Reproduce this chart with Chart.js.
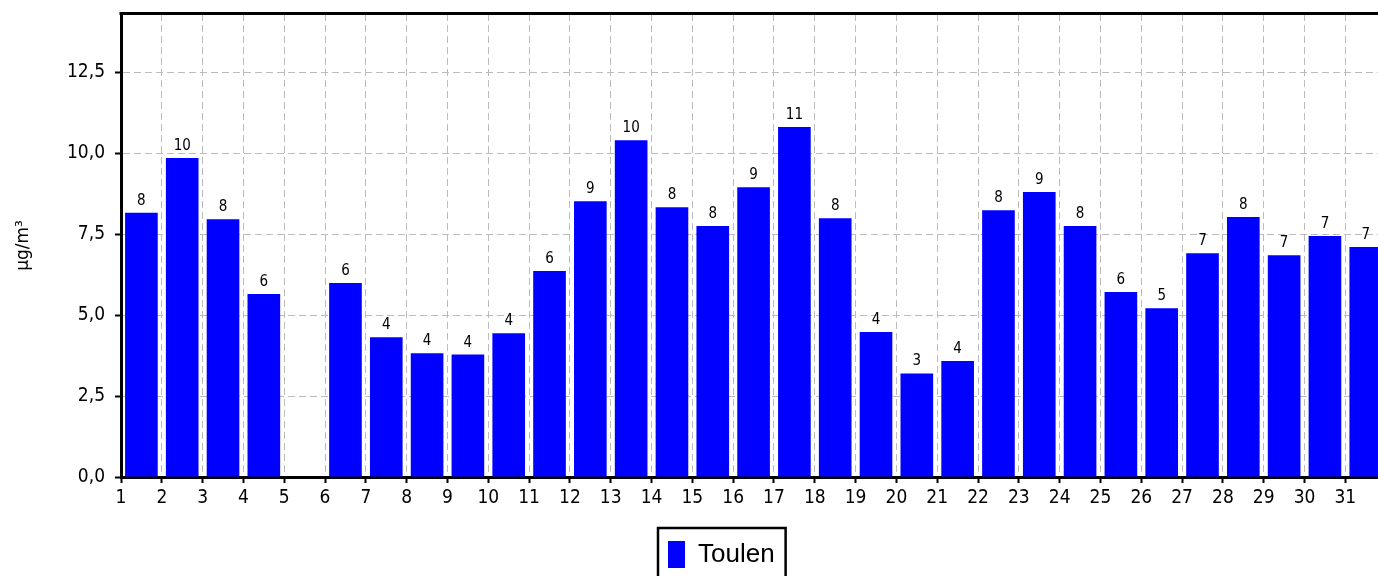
<!DOCTYPE html>
<html>
<head>
<meta charset="utf-8">
<script src="https://cdn.jsdelivr.net/npm/chart.js@4.4.0/dist/chart.umd.min.js"></script>
<style>
    html, body { margin: 0; padding: 0; background: #fff; overflow: hidden; }
    #wrap { width: 1378px; height: 600px; position: relative; }
</style>
</head>
<body>
<div id="wrap"><canvas id="chart"></canvas></div>
<script>
// data (day of month -> toluene, ug/m3)
const days = [1, 2, 3, 4, 5, 6, 7, 8, 9, 10, 11, 12, 13, 14, 15, 16, 17, 18, 19, 20, 21, 22, 23, 24, 25, 26, 27, 28, 29, 30, 31]
const toulen = [8.16, 9.85, 7.96, 5.65, null, 5.99, 4.32, 3.82, 3.78, 4.44, 6.36, 8.52, 10.40, 8.33, 7.75, 8.95, 10.81, 7.99, 4.48, 3.20, 3.58, 8.24, 8.80, 7.75, 5.71, 5.21, 6.91, 8.03, 6.85, 7.44, 7.10]
const seriesName = "Toulen"
const yTitle = "µg/m³"

const tickFont = "'DejaVu Sans Condensed', 'DejaVu Sans', sans-serif"

Chart.defaults.color = "#000"
Chart.defaults.font.family = tickFont

// LABEL NILAI + GARIS ATAS + KOTAK LEGEND
const extras = {
    id: "extras",
    afterLayout(chart) {
        chart.legend.left = 658
    },
    afterDatasetsDraw(chart) {
        const ctx = chart.ctx
        const meta = chart.getDatasetMeta(0)
        ctx.save()
        ctx.font = "15px " + tickFont
        ctx.fillStyle = "#000"
        ctx.textAlign = "center"
        ctx.textBaseline = "alphabetic"
        meta.data.forEach((bar, i) => {
            const v = toulen[i]
            if (v === null) return
            ctx.fillText(String(Math.round(v)), bar.x, bar.y - 8)
        })
        ctx.restore()
    },
    afterDraw(chart) {
        const ctx = chart.ctx
        const area = chart.chartArea
        ctx.save()
        ctx.strokeStyle = "#000"
        ctx.lineWidth = 3
        ctx.beginPath()
        ctx.moveTo(area.left - 1.5, area.top - 0.5)
        ctx.lineTo(area.right, area.top - 0.5)
        ctx.stroke()

        const hb = chart.legend.legendHitBoxes[0]
        if (hb) {
            ctx.lineWidth = 2.5
            ctx.strokeRect(hb.left - 10, hb.top - 13, hb.width + 21, hb.height + 30)
        }
        ctx.restore()
    }
}

new Chart(document.getElementById("chart"), {
    type: "bar",
    data: {
        datasets: [{
            label: seriesName,
            data: days.map((d, i) => ({ x: d + 0.5, y: toulen[i] })),
            backgroundColor: "#0000ff",
            borderWidth: 0,
            categoryPercentage: 0.8,
            barPercentage: 1.0
        }]
    },
    options: {
        responsive: true,
        maintainAspectRatio: false,
        animation: false,
        layout: {
            padding: { top: 14, left: 0, right: 0, bottom: 22 }
        },
        plugins: {
            tooltip: { enabled: false },
            legend: {
                position: "bottom",
                align: "start",
                labels: {
                    boxWidth: 17,
                    boxHeight: 27,
                    padding: 10,
                    color: "#000",
                    font: { family: "'Liberation Sans', Arial, sans-serif", size: 26 }
                }
            }
        },
        scales: {
            x: {
                type: "linear",
                min: 1,
                max: 31.8,
                offset: false,
                grid: {
                    offset: false,
                    color: "#bcbcbc",
                    lineWidth: 1,
                    drawTicks: true,
                    tickLength: 6,
                    tickColor: "#000",
                    tickWidth: 2,
                    tickBorderDash: [100, 0]
                },
                border: { color: "#000", width: 3, dash: [7, 4] },
                ticks: {
                    stepSize: 1,
                    includeBounds: false,
                    autoSkip: false,
                    maxRotation: 0,
                    padding: 4,
                    font: { size: 19 },
                    callback: v => String(v)
                },
                afterFit(scale) {
                    scale.height = 54
                    scale.paddingLeft = 0
                    scale.paddingRight = 0
                }
            },
            y: {
                min: 0,
                max: 14.3,
                grid: {
                    color: "#bcbcbc",
                    lineWidth: 1,
                    drawTicks: true,
                    tickLength: 6,
                    tickColor: "#000",
                    tickWidth: 2,
                    tickBorderDash: [100, 0]
                },
                border: { color: "#000", width: 3, dash: [7, 4] },
                ticks: {
                    stepSize: 2.5,
                    includeBounds: false,
                    padding: 10,
                    font: { size: 19 },
                    callback: v => v.toFixed(1).replace(".", ",")
                },
                title: {
                    display: true,
                    text: yTitle,
                    font: { family: "'DejaVu Sans', sans-serif", size: 17 },
                    padding: { top: 13, bottom: 0 }
                },
                afterFit(scale) {
                    scale.width = 121
                    scale.paddingTop = 0
                    scale.paddingBottom = 0
                }
            }
        }
    },
    plugins: [extras]
})
</script>
</body>
</html>
